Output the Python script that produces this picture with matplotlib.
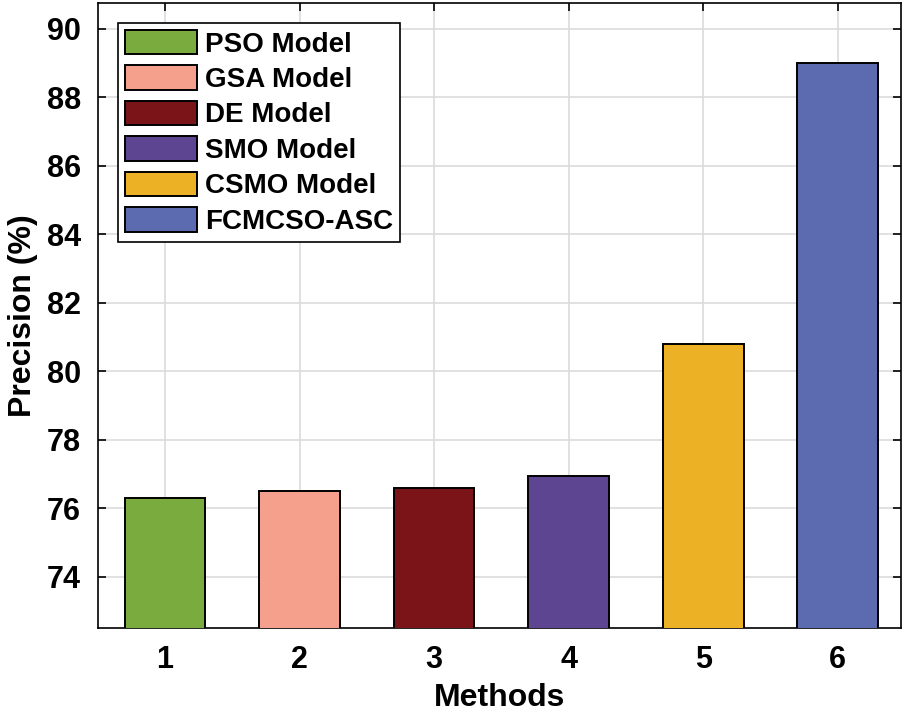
import matplotlib.pyplot as plt
from matplotlib.patches import Patch

methods = [1, 2, 3, 4, 5, 6]
precision = [76.31, 76.49, 76.58, 76.93, 80.8, 89.0]
labels = ['PSO Model', 'GSA Model', 'DE Model', 'SMO Model', 'CSMO Model', 'FCMCSO-ASC']
colors = ['#79AB3F', '#F5A08C', '#7A1418', '#5E4591', '#ECB124', '#5C6AB0']
yticks = [74, 76, 78, 80, 82, 84, 86, 88, 90]

plt.rcParams['font.family'] = ['Liberation Sans', 'DejaVu Sans']
plt.rcParams['font.weight'] = 'bold'

fig = plt.figure(figsize=(9.05, 7.18), dpi=100)
ax = fig.add_axes([0.108, 0.1253, 0.8876, 0.8707])

bars = ax.bar(methods, precision, width=0.6, color=colors, edgecolor='black',
              linewidth=1.4, zorder=3)

ax.set_xlim(0.5, 6.47)
ax.set_ylim(72.5, 90.75)
ax.set_xticks(methods)
ax.set_yticks(yticks)
ax.grid(True, color='#dcdcdc', linewidth=1.2, zorder=0)
ax.set_axisbelow(True)
ax.tick_params(direction='in', top=True, right=True, length=6, width=1.2,
               labelsize=22, pad=12)
for lab in ax.get_xticklabels() + ax.get_yticklabels():
    lab.set_fontweight('bold')
for sp in ax.spines.values():
    sp.set_linewidth(1.2)

ax.set_xlabel('Methods', fontsize=23, fontweight='bold', labelpad=6)
ax.set_ylabel('Precision (%)', fontsize=23, fontweight='bold', labelpad=6)

handles = [Patch(facecolor=c, edgecolor='black', linewidth=1.4) for c in colors]
leg = ax.legend(handles, labels, loc='upper left', bbox_to_anchor=(0.025, 0.968),
                prop={'weight': 'bold', 'size': 20},
                handlelength=2.6, handleheight=0.97, labelspacing=0.28,
                handletextpad=0.28, borderpad=0.25, borderaxespad=0,
                fancybox=False, framealpha=1, edgecolor='black')
leg.get_frame().set_linewidth(1.2)

fig.savefig('out.png', dpi=100)
